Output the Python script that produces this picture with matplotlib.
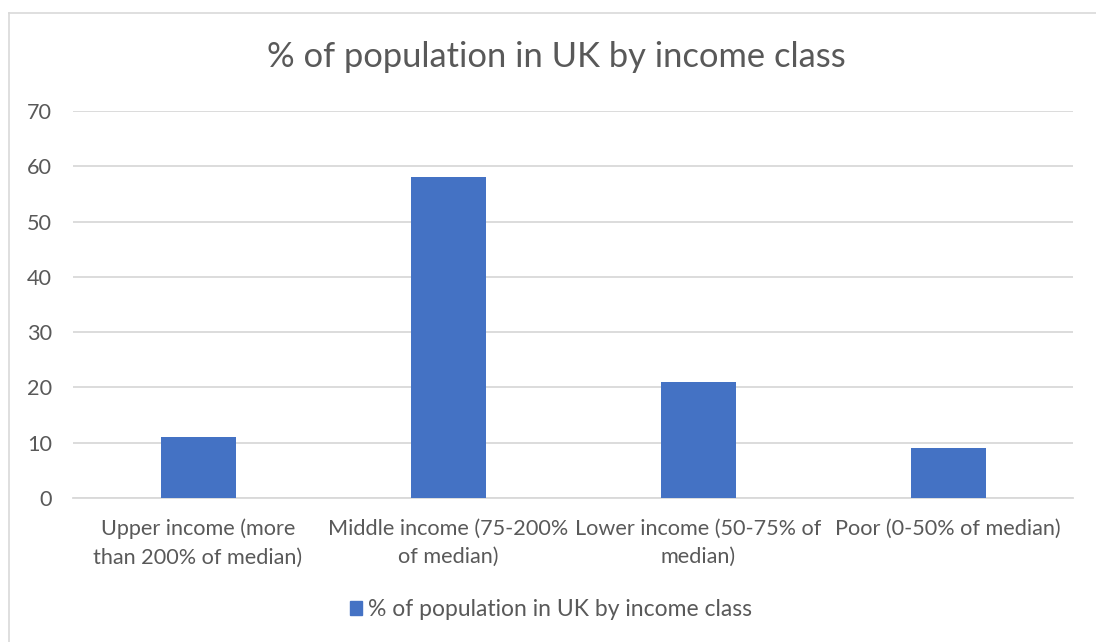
import matplotlib
matplotlib.use('Agg')
import matplotlib.pyplot as plt
from matplotlib.lines import Line2D
from matplotlib.patches import Patch

plt.rcParams['font.family'] = ['Lato', 'DejaVu Sans']

""" Data """
categories = ['Upper income (more\nthan 200% of median)',
              'Middle income (75-200%\nof median)',
              'Lower income (50-75% of\nmedian)',
              'Poor (0-50% of median)']
values = [11, 58, 21, 9]
series_name = '% of population in UK by income class'
y_ticks = [0, 10, 20, 30, 40, 50, 60, 70]

barColor = '#4472C4'
gridColor = '#D9D9D9'
textColor = '#595959'

fig = plt.figure(figsize=(10.96, 6.42), dpi=100)
ax = fig.add_axes([73 / 1096, 1 - 498 / 642, 1000 / 1096, 387 / 642])

x = list(range(len(categories)))
ax.bar(x, values, width=0.3, color=barColor, zorder=3)

ax.set_xlim(-0.5, len(categories) - 0.5)
ax.set_ylim(0, 70)
ax.set_yticks(y_ticks)
ax.yaxis.grid(True, color=gridColor, linewidth=1.3, zorder=0)
ax.set_xticks(x)
ax.set_xticklabels(categories, fontsize=15.6, color=textColor, linespacing=1.5)
ax.tick_params(axis='both', length=0, labelcolor=textColor)
ax.tick_params(axis='y', labelsize=15.6, pad=15)
ax.tick_params(axis='x', pad=15)
for s in ['top', 'right', 'left']:
    ax.spines[s].set_visible(False)
ax.spines['bottom'].set_color(gridColor)
ax.spines['bottom'].set_linewidth(1.3)

fig.text(556 / 1096, 1 - 57 / 642, series_name, ha='center', va='center',
         fontsize=24.8, color=textColor)

fig.legend(handles=[Patch(color=barColor, label=series_name)],
           loc='center', bbox_to_anchor=(551 / 1096, 1 - 610 / 642),
           frameon=False, fontsize=16.5, labelcolor=textColor,
           handlelength=0.55, handleheight=0.55, handletextpad=0.25)

# chart border (only top and left visible in the crop)
fig.add_artist(Line2D([9 / 1096, 1], [1 - 12.5 / 642, 1 - 12.5 / 642], color='#D9D9D9', linewidth=1.2))
fig.add_artist(Line2D([9 / 1096, 9 / 1096], [0, 1 - 12.5 / 642], color='#D9D9D9', linewidth=1.2))

fig.savefig('out.png', dpi=100, facecolor='white')
